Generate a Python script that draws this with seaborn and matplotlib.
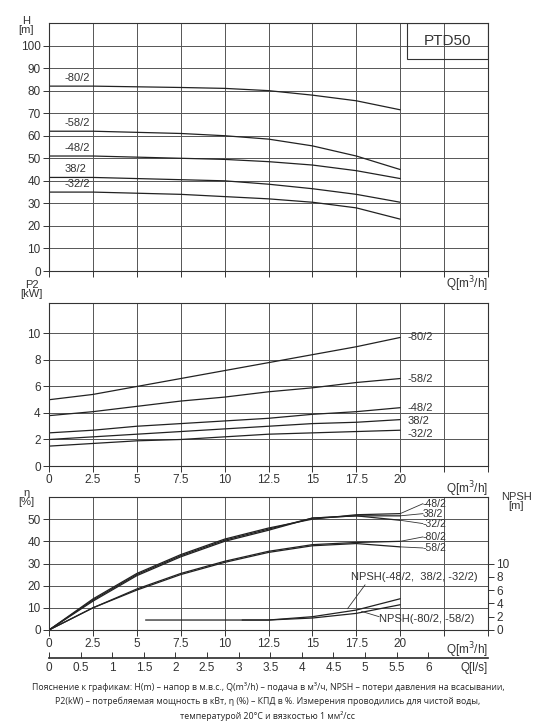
import numpy as np
import pandas as pd
import matplotlib
matplotlib.use("Agg")
import matplotlib.pyplot as plt
import seaborn as sns

sns.set_theme(style="white")
plt.rcParams['font.family'] = ['Liberation Sans', 'DejaVu Sans']

q = [0, 2.5, 5, 7.5, 10, 12.5, 15, 17.5, 20]
models = ["-80/2", "-58/2", "-48/2", "38/2", "-32/2"]
head = {
    "-80/2": [82, 82, 81.7, 81.4, 81, 80, 78, 75.5, 71.5],
    "-58/2": [62, 62, 61.5, 61, 60, 58.5, 55.5, 51, 45],
    "-48/2": [51, 51, 50.5, 50, 49.5, 48.5, 47, 44.5, 41],
    "38/2": [41.5, 41.5, 41, 40.5, 40, 38.5, 36.5, 34, 30.5],
    "-32/2": [35, 35, 34.5, 34, 33, 32, 30.5, 28, 23],
}
power = {
    "-80/2": [5.0, 5.4, 6.0, 6.6, 7.2, 7.8, 8.4, 9.0, 9.7],
    "-58/2": [3.8, 4.1, 4.5, 4.9, 5.2, 5.6, 5.9, 6.3, 6.6],
    "-48/2": [2.5, 2.7, 3.0, 3.2, 3.4, 3.6, 3.9, 4.1, 4.4],
    "38/2": [2.0, 2.2, 2.4, 2.6, 2.8, 3.0, 3.2, 3.3, 3.5],
    "-32/2": [1.5, 1.7, 1.9, 2.0, 2.2, 2.4, 2.5, 2.6, 2.7],
}
eff = {
    "-48/2": [0, 14, 25.5, 34, 41, 46, 50, 52, 52.5],
    "38/2": [0, 13.5, 25, 33.5, 40.5, 45.5, 50.5, 51.5, 51.5],
    "-32/2": [0, 13, 24.5, 33, 40, 45, 50.5, 51.5, 49.5],
    "-80/2": [0, 10, 18.5, 25.5, 31, 35.5, 38.5, 39.5, 40],
    "-58/2": [0, 10, 18, 25, 30.5, 35, 38, 39, 37.5],
}
npsh1_q = [5.5, 10, 12.5, 15, 17.5, 20]
npsh1 = [1.5, 1.5, 1.5, 2.0, 3.0, 4.7]
npsh2_q = [11, 12.5, 15, 17.5, 20]
npsh2 = [1.5, 1.5, 1.8, 2.5, 3.8]

xt = [0, 2.5, 5, 7.5, 10, 12.5, 15, 17.5, 20, 22.5, 25]
xtl = ["0", "2.5", "5", "7.5", "10", "12.5", "15", "17.5", "20", "", ""]

fig = plt.figure(figsize=(5.36, 7.26), dpi=100)
L, W = 49/536, 439/536
axH = fig.add_axes([L, 1-271/726, W, 248/726])
axP = fig.add_axes([L, 1-466/726, W, 163/726])
axE = fig.add_axes([L, 1-630/726, W, 133/726])

def setup(ax, ylim, yt):
    ax.set_xlim(0, 25); ax.set_ylim(*ylim)
    ax.set_xticks(xt); ax.set_yticks(yt)
    ax.grid(True, color="#555555", lw=0.7)
    for s in ax.spines.values():
        s.set_color("#333333"); s.set_linewidth(0.8)
    ax.tick_params(axis="both", direction="out", length=4, width=0.7,
                   colors="#333333", labelsize=8.5, left=True, bottom=True, pad=2)
    ax.set_xlabel(""); ax.set_ylabel("")

kw = dict(color="#222222", lw=0.9, legend=False)

for m in models:
    sns.lineplot(x=q, y=head[m], ax=axH, **kw)
setup(axH, (0, 110), range(0, 101, 10))
axH.set_xticklabels([])
labH = {"-80/2": 83.5, "-58/2": 63.5, "-48/2": 52.5, "38/2": 43, "-32/2": 36.5}
for m, y in labH.items():
    axH.text(0.9, y, m, fontsize=8, va="bottom", color="#333333")
axH.text(-1.3, 113, "H\n[m]", fontsize=8, ha="center", va="top", color="#333333", linespacing=0.9)
axH.add_patch(plt.Rectangle((20.4, 94.2), 4.6, 15.8, fill=False, ec="#333333", lw=0.8))
axH.text(22.7, 102, "PTD50", fontsize=11, ha="center", va="center", color="#333333")
axH.text(25, -1.5, "Q[m$^3$/h]", fontsize=8.5, ha="right", va="top", color="#333333")

for m in models:
    sns.lineplot(x=q, y=power[m], ax=axP, **kw)
setup(axP, (0, 12.3), range(0, 11, 2))
axP.set_xticklabels(xtl)
labP = {"-80/2": 9.7, "-58/2": 6.6, "-48/2": 4.4, "38/2": 3.4, "-32/2": 2.4}
for m, y in labP.items():
    axP.text(20.4, y, m, fontsize=8, va="center", color="#333333")
axP.text(-1.0, 12.6, "P2\n[kW]", fontsize=8, ha="center", va="bottom", color="#333333", linespacing=0.9)
axP.text(25, -1.0, "Q[m$^3$/h]", fontsize=8.5, ha="right", va="top", color="#333333")

for m in eff:
    sns.lineplot(x=q, y=eff[m], ax=axE, **kw)
setup(axE, (0, 60), range(0, 51, 10))
axE.set_xticklabels(xtl)
labE = {"-48/2": 57, "38/2": 52.5, "-32/2": 48, "-80/2": 42, "-58/2": 37}
for m, y in labE.items():
    yv = eff[m][-1]
    axE.plot([20, 21.3], [yv, y], color="#333333", lw=0.6)
    axE.text(21.3, y, m, fontsize=7.5, va="center", color="#333333")
axE.text(-1.3, 64, "η\n[%]", fontsize=8, ha="center", va="top", color="#333333", linespacing=0.9)
axE.text(25, -4.5, "Q[m$^3$/h]", fontsize=8.5, ha="right", va="top", color="#333333")

axN = axE.twinx()
sns.lineplot(x=npsh1_q, y=npsh1, ax=axN, **kw)
sns.lineplot(x=npsh2_q, y=npsh2, ax=axN, **kw)
axN.set_ylim(0, 20); axN.set_yticks(range(0, 11, 2)); axN.set_ylabel("")
axN.tick_params(axis="y", direction="out", length=4, width=0.7, colors="#333333", labelsize=8.5, right=True, pad=2)
for s in axN.spines.values():
    s.set_visible(False)
axN.text(26.6, 20.8, "NPSH\n[m]", fontsize=8, ha="center", va="top", color="#333333", linespacing=0.9)
axN.text(17.2, 7.9, "NPSH(-48/2,  38/2, -32/2)", fontsize=8, va="center", color="#333333")
axN.plot([18.0, 17.0], [6.8, 3.2], color="#333333", lw=0.6)
axN.text(18.8, 1.6, "NPSH(-80/2, -58/2)", fontsize=8, va="center", color="#333333")
axN.plot([18.8, 17.8], [2.0, 2.8], color="#333333", lw=0.6)

sec = axE.secondary_xaxis(-0.21, functions=(lambda x: x/3.6, lambda x: x*3.6))
sec.set_xticks(np.arange(0, 6.01, 0.5))
sec.set_xticklabels(["0", "0.5", "1", "1.5", "2", "2.5", "3", "3.5", "4", "4.5", "5", "5.5", "6"])
sec.tick_params(direction="in", length=4, width=0.7, colors="#333333", labelsize=8.5, pad=3)
sec.spines["bottom"].set_color("#333333")
axE.text(25, -14.5, "Q[l/s]", fontsize=8.5, ha="right", va="top", color="#333333")

cap = ("Пояснение к графикам: H(m) – напор в м.в.с., Q(m³/h) – подача в м³/ч, NPSH – потери давления на всасывании,\n"
       "P2(kW) – потребляемая мощность в кВт, η (%) – КПД в %. Измерения проводились для чистой воды,\n"
       "температурой 20°C и вязкостью 1 мм²/сс")
fig.text(0.5, 1-682/726, cap, fontsize=6.3, ha="center", va="top", family=["Open Sans", "DejaVu Sans"], linespacing=1.6)

fig.savefig("out.png", dpi=100, facecolor="white")
